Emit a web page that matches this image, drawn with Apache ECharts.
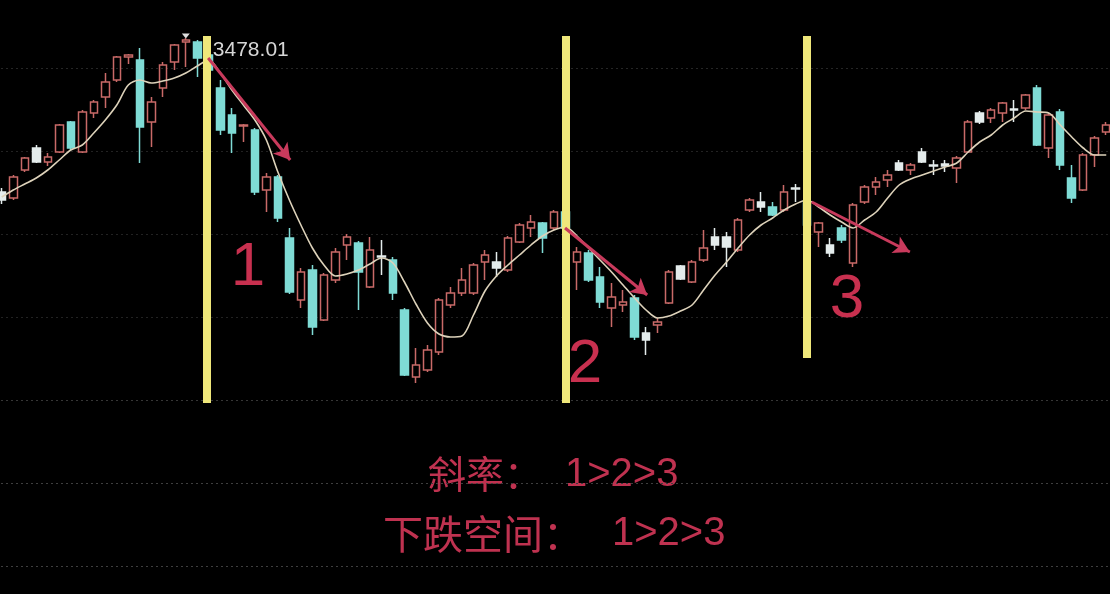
<!DOCTYPE html>
<html><head><meta charset="utf-8">
<script src="https://cdn.jsdelivr.net/npm/echarts@6/dist/echarts.min.js"></script>
<style>html,body{margin:0;padding:0;background:#000;}#c{width:1110px;height:594px;}</style>
</head><body><div id="c"></div>
<script>
// [open, close, low, high]
const candles = [
[3170,3154,3146,3178],[3158,3200,3154,3204],[3214,3238,3210,3240],[3258,3230,3228,3264],[3230,3240,3222,3248],
[3250,3304,3248,3306],[3310,3258,3254,3312],[3250,3330,3248,3334],[3328,3350,3318,3354],[3360,3390,3338,3408],
[3394,3440,3390,3442],[3440,3444,3426,3446],[3434,3300,3228,3458],[3310,3350,3260,3360],[3378,3424,3360,3430],
[3430,3464,3414,3466],[3470,3474,3420,3478.01],[3470,3438,3400,3474],[3444,3414,3398,3454],[3378,3294,3284,3394],
[3324,3288,3248,3338],[3302,3304,3270,3306],[3294,3170,3164,3298],[3174,3200,3130,3208],[3200,3118,3110,3204],
[3078,2970,2966,3098],[2954,3010,2938,3018],[3014,2900,2884,3024],[2914,3004,2912,3008],[2994,3050,2988,3058],
[3064,3080,3034,3086],[3068,3010,2934,3072],[2980,3054,2978,3080],[3040,3042,3004,3074],[3034,2968,2954,3040],
[2934,2804,2802,2938],[2800,2824,2788,2858],[2814,2854,2810,2864],[2850,2954,2844,2958],[2944,2968,2938,2980],
[2968,2994,2962,3018],[2968,3024,2964,3028],[3030,3044,2994,3054],[3030,3018,3000,3050],[3014,3078,3010,3082],
[3070,3104,3068,3108],[3098,3110,3080,3124],[3108,3078,3048,3110],[3098,3130,3094,3134],[3130,3098,3090,3138],
[3030,3050,2974,3060],[3048,2994,2990,3054],[3000,2950,2938,3020],[2938,2960,2900,2988],[2944,2950,2930,2974],
[2958,2880,2874,2964],[2888,2874,2844,2900],[2904,2910,2888,2918],[2948,3010,2946,3014],[3022,2996,2994,3024],
[2990,3030,2988,3034],[3034,3058,3030,3094],[3080,3064,3054,3098],[3080,3060,3020,3090],[3054,3114,3050,3118],
[3134,3154,3130,3158],[3150,3140,3130,3170],[3140,3124,3122,3150],[3134,3170,3130,3184],[3176,3178,3150,3186],
[3148,3104,3098,3154],[3090,3108,3060,3110],[3064,3048,3040,3078],[3098,3074,3068,3104],[3028,3144,3020,3148],
[3150,3180,3146,3184],[3180,3190,3164,3200],[3194,3204,3180,3214],[3228,3214,3212,3234],[3214,3224,3204,3228],
[3250,3230,3228,3258],[3222,3224,3204,3234],[3226,3222,3210,3234],[3218,3238,3188,3242],[3250,3310,3248,3314],
[3328,3310,3306,3332],[3318,3334,3308,3338],[3328,3348,3310,3350],[3334,3336,3310,3354],[3338,3364,3334,3366],
[3378,3264,3262,3384],[3258,3324,3238,3328],[3330,3224,3214,3336],[3198,3158,3148,3224],[3174,3244,3172,3248],
[3244,3278,3220,3282],[3290,3304,3284,3310]
];
const ma = [
3160,3174,3186,3198,3214,3234,3254,3264,3288,3314,
3344,3384,3394,3388,3392,3398,3408,3422,3434,3408,
3374,3344,3314,3274,3210,3154,3104,3058,3024,3002,
3006,3014,3026,3038,3028,2990,2946,2908,2886,2880,
2882,2924,2972,3002,3024,3044,3064,3082,3094,3100,
3082,3058,3034,3010,2984,2958,2934,2918,2922,2932,
2944,2974,3004,3030,3058,3084,3104,3118,3134,3146,
3154,3140,3124,3110,3098,3114,3130,3158,3184,3196,
3204,3212,3220,3228,3250,3270,3284,3304,3318,3332,
3330,3328,3304,3280,3258,3244,3244
];
const paleIdx = [0,3,33,43,56,59,62,63,66,69,72,78,80,81,82,85,88];
const categories = candles.map((_, i) => 'D' + (i + 1));
const peak = { index: 16, value: 3478.01, label: '3478.01' };
// vertical highlight lines: [position in candle units, top price, bottom price]
const yellowLines = [[17.8, 3482, 2748], [49.0, 3482, 2748], [70.0, 3482, 2838]];
// slope arrows: [[x1, y1], [x2, y2]]
const arrows = [
  [[17.94, 3438], [25.07, 3234]],
  [[48.96, 3098], [56.1, 2964]],
  [[70.4, 3150], [78.93, 3050]]
];
const sectionMarks = [['1', 21.4, 3018], ['2', 50.7, 2824], ['3', 73.46, 2954]];
const noteLine1 = ['斜率：', '1>2>3'];
const noteLine2 = ['下跌空间：', '1>2>3'];

const pale = '#e4ecec';
const candleData = candles.map((c, i) => paleIdx.includes(i)
  ? { value: c, itemStyle: { color: pale, color0: pale, borderColor: pale, borderColor0: pale } }
  : c);

const red = '#c8304f';
const textCol = '#bf3250';

const chart = echarts.init(document.getElementById('c'), null, { renderer: 'canvas' });
chart.setOption({
  animation: false,
  backgroundColor: '#000',
  grid: { left: -4, right: -2, top: -15, bottom: 28, outerBoundsMode: 'none', containLabel: false },
  xAxis: [
    { type: 'category', data: categories, boundaryGap: true, show: false },
    { type: 'value', min: -0.5, max: candles.length - 0.5, show: false }
  ],
  yAxis: {
    type: 'value', min: 2422, max: 3584, interval: 166,
    axisLabel: { show: false }, axisLine: { show: false }, axisTick: { show: false },
    splitLine: { show: true, lineStyle: {
      color: ['#3e3e3e', '#3e3e3e', '#363636', '#222222', '#222222', '#222222', '#262626', '#000000'],
      type: [2, 3], width: 1 } }
  },
  series: [
    {
      type: 'candlestick', data: candleData, barWidth: 8, z: 2,
      itemStyle: { color: 'transparent', color0: '#7fdbd5', borderColor: '#c96a68', borderColor0: '#7fdbd5', borderWidth: 1.5 },
      markPoint: {
        symbol: 'triangle', symbolRotate: 180, symbolSize: [8, 5], symbolOffset: [0, -2],
        itemStyle: { color: '#dddddd' },
        label: { show: true, formatter: peak.label, position: 'right', distance: 5, offset: [18, 14],
          color: '#d6d6d6', fontSize: 21, fontFamily: 'Liberation Sans' },
        data: [{ coord: [peak.index, peak.value] }]
      }
    },
    {
      type: 'line', data: ma, smooth: 0.3, symbol: 'none', z: 3,
      lineStyle: { color: '#ddd2ba', width: 1.6 }
    },
    {
      type: 'line', xAxisIndex: 1, data: [], z: 4, silent: true,
      markLine: {
        silent: true, symbol: ['none', 'none'], label: { show: false },
        lineStyle: { color: '#efe77a', width: 8, type: 'solid', opacity: 1 },
        emphasis: { disabled: true },
        data: yellowLines.map(l => [{ coord: [l[0], l[1]] }, { coord: [l[0], l[2]] }])
      }
    },
    {
      type: 'line', xAxisIndex: 1, data: [], z: 5, silent: true,
      markLine: {
        silent: true, symbol: ['none', 'arrow'], symbolSize: [14, 16], label: { show: false },
        lineStyle: { color: '#c83a5c', width: 3, type: 'solid', opacity: 1 },
        emphasis: { disabled: true },
        data: arrows.map(a => [{ coord: a[0] }, { coord: a[1] }])
      },
      markPoint: {
        symbol: 'circle', symbolSize: 1, itemStyle: { color: 'transparent' },
        label: { show: true, position: 'inside', color: red, fontSize: 62, fontFamily: 'Liberation Sans',
          formatter: p => p.name },
        data: sectionMarks.map(s => ({ name: s[0], coord: [s[1], s[2]] }))
      }
    }
  ],
  graphic: [
    { type: 'text', left: 428, top: 455, style: { text: noteLine1[0], fill: textCol, font: '38px "Noto Sans CJK SC"' } },
    { type: 'text', left: 565, top: 455, style: { text: noteLine1[1], fill: textCol, font: '40px "Liberation Sans"' } },
    { type: 'text', left: 383, top: 514, style: { text: noteLine2[0], fill: textCol, font: '40px "Noto Sans CJK SC"' } },
    { type: 'text', left: 612, top: 514, style: { text: noteLine2[1], fill: textCol, font: '40px "Liberation Sans"' } }
  ]
});
</script>
</body></html>
